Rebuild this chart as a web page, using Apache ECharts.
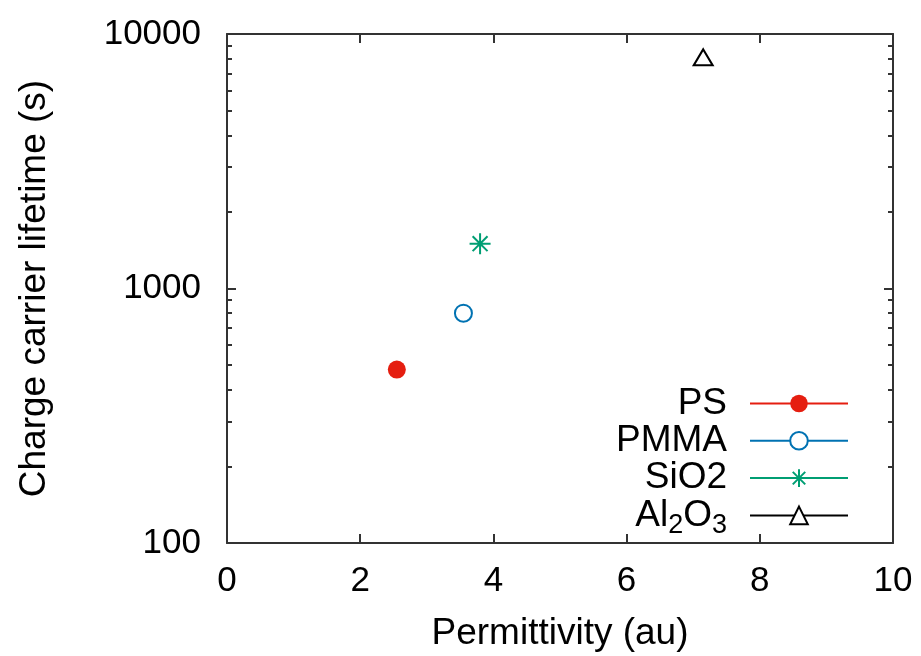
<!DOCTYPE html>
<html>
<head>
<meta charset="utf-8">
<script src="https://cdn.jsdelivr.net/npm/echarts@6/dist/echarts.min.js"></script>
<style>
  html, body { margin: 0; padding: 0; background: #fff; }
  #chart { width: 921px; height: 656px; }
</style>
</head>
<body>
<div id="chart"></div>
<script>
// values
var seriesNames = ['PS', 'PMMA', 'SiO2', 'Al2O3'];
var psData = [[2.55, 480]];
var pmmaData = [[3.55, 800]];
var sio2Data = [[3.8, 1500]];
var al2o3Data = [[7.15, 8100]];
var xTicks = [0, 2, 4, 6, 8, 10];
var yMajor = [100, 1000, 10000];
var yMinor = [200, 300, 400, 500, 600, 700, 800, 900, 2000, 3000, 4000, 5000, 6000, 7000, 8000, 9000];

var FONT = 'Liberation Sans';
var AXIS_COLOR = '#333';
var asterisk = 'path://M0,-10L0,10M-10,0L10,0M-7.1,-7.1L7.1,7.1M-7.1,7.1L7.1,-7.1';

var chart = echarts.init(document.getElementById('chart'));

function yAxisDef(pos, ticks, len, showLabel, showLine) {
    return {
        type: 'log',
        logBase: 10,
        min: 100,
        max: 10000,
        position: pos,
        axisLine: { show: showLine, lineStyle: { color: AXIS_COLOR, width: 2 } },
        axisTick: { show: true, inside: true, length: len, customValues: ticks,
                    lineStyle: { color: AXIS_COLOR, width: 2 } },
        axisLabel: { show: showLabel, customValues: yMajor, margin: 26,
                     fontFamily: FONT, fontSize: 35, color: '#000',
                     formatter: function (v) { return String(v); } },
        splitLine: { show: false },
        name: showLabel ? 'Charge carrier lifetime (s)' : '',
        nameLocation: 'middle',
        nameGap: 174,
        nameTextStyle: { fontFamily: FONT, fontSize: 37, color: '#000' }
    };
}

var option = {
    backgroundColor: '#fff',
    animation: false,
    grid: { left: 227, right: 28, top: 34, bottom: 113, outerBoundsMode: 'none' },
    legend: {
        orient: 'vertical',
        align: 'right',
        right: 67,
        top: 380,
        itemWidth: 98,
        itemHeight: 22,
        itemGap: 0.3,
        data: seriesNames,
        textStyle: {
            fontFamily: FONT, fontSize: 37, color: '#000',
            padding: [0, 18, 0, 0],
            rich: {
                n: { fontFamily: FONT, fontSize: 37, color: '#000' },
                s: { fontFamily: FONT, fontSize: 27, color: '#000', padding: [20, 0, 0, 0] }
            }
        },
        formatter: function (name) {
            if (name === 'Al2O3') return '{n|Al}{s|2}{n|O}{s|3}';
            return name;
        }
    },
    xAxis: [{
        type: 'value',
        min: 0,
        max: 10,
        interval: 2,
        position: 'bottom',
        axisLine: { lineStyle: { color: AXIS_COLOR, width: 2 } },
        axisTick: { inside: true, length: 9, lineStyle: { color: AXIS_COLOR, width: 2 } },
        axisLabel: { margin: 21, fontFamily: FONT, fontSize: 35, color: '#000',
                     customValues: xTicks },
        splitLine: { show: false },
        name: 'Permittivity (au)',
        nameLocation: 'middle',
        nameGap: 72,
        nameTextStyle: { fontFamily: FONT, fontSize: 37, color: '#000' }
    }, {
        type: 'value',
        min: 0,
        max: 10,
        interval: 2,
        position: 'top',
        axisLine: { lineStyle: { color: AXIS_COLOR, width: 2 } },
        axisTick: { inside: true, length: 9, lineStyle: { color: AXIS_COLOR, width: 2 } },
        axisLabel: { show: false },
        splitLine: { show: false }
    }],
    yAxis: [
        yAxisDef('left', yMajor, 9, true, true),
        yAxisDef('left', yMinor, 5, false, false),
        yAxisDef('right', yMajor, 9, false, true),
        yAxisDef('right', yMinor, 5, false, false)
    ],
    series: [{
        name: 'PS',
        type: 'line',
        data: psData,
        symbol: 'circle',
        symbolSize: 18,
        lineStyle: { color: '#e51e10', width: 2 },
        itemStyle: { color: '#e51e10' }
    }, {
        name: 'PMMA',
        type: 'line',
        data: pmmaData,
        symbol: 'circle',
        symbolSize: 17,
        lineStyle: { color: '#0072b2', width: 2 },
        itemStyle: { color: '#fff', borderColor: '#0072b2', borderWidth: 2 }
    }, {
        name: 'SiO2',
        type: 'line',
        data: sio2Data,
        symbol: asterisk,
        symbolSize: 21,
        lineStyle: { color: '#009e73', width: 2 },
        itemStyle: { color: 'none', borderColor: '#009e73', borderWidth: 2 }
    }, {
        name: 'Al2O3',
        type: 'line',
        data: al2o3Data,
        symbol: 'triangle',
        symbolSize: [19, 16],
        lineStyle: { color: '#000', width: 2 },
        itemStyle: { color: '#fff', borderColor: '#000', borderWidth: 2 }
    }]
};

chart.setOption(option);
</script>
</body>
</html>
